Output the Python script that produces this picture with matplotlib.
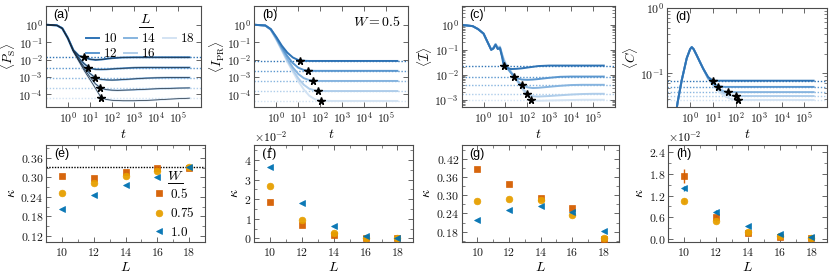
import numpy as np
import matplotlib
matplotlib.use("Agg")
import matplotlib.pyplot as plt
from matplotlib.ticker import MultipleLocator, AutoMinorLocator, FuncFormatter, NullFormatter

# ---- дані: верхній ряд (log10 значень, log10 часу) ----
L_vals = [10, 12, 14, 16, 18]
blues = ['#2e73b5', '#5b97cf', '#86b4df', '#afcdea', '#d3e3f3']

t_a = [-1, -0.5, -0.25, 0, 0.25, 0.5, 0.75, 1, 1.25, 1.5, 1.75, 2, 2.25, 2.5, 3, 3.5, 4, 4.5, 5, 5.5]
ps_a = [
    [0, -0.03, -0.2, -0.75, -1.45, -1.78, -1.88, -1.98, -2.02, -2.0, -1.96, -1.92, -1.9, -1.88, -1.87, -1.87, -1.87, -1.87, -1.87, -1.87],
    [0, -0.03, -0.2, -0.76, -1.48, -1.92, -2.25, -2.5, -2.56, -2.57, -2.56, -2.54, -2.52, -2.5, -2.47, -2.46, -2.46, -2.46, -2.46, -2.46],
    [0, -0.03, -0.21, -0.77, -1.5, -2.0, -2.45, -2.8, -3.05, -3.14, -3.17, -3.18, -3.17, -3.15, -3.11, -3.07, -3.05, -3.04, -3.04, -3.04],
    [0, -0.03, -0.21, -0.78, -1.52, -2.05, -2.55, -3.0, -3.4, -3.65, -3.73, -3.76, -3.77, -3.76, -3.74, -3.71, -3.68, -3.66, -3.64, -3.63],
    [0, -0.03, -0.22, -0.79, -1.54, -2.1, -2.65, -3.15, -3.65, -4.18, -4.3, -4.34, -4.36, -4.37, -4.37, -4.35, -4.32, -4.28, -4.25, -4.22],
]
plat_a = [-1.87, -2.46, -3.04, -3.62, -4.2]
star_t_a = [0.71, 0.93, 1.24, 1.45, 1.51]

t_b = [-1, -0.5, -0.25, 0, 0.25, 0.5, 0.75, 1, 1.25, 1.5, 1.75, 2, 2.25, 2.5, 3, 3.5, 4, 4.5, 5, 5.5]
ipr_b = [
    [0, -0.04, -0.25, -0.7, -1.2, -1.6, -1.88, -2.03, -2.07, -2.08, -2.08, -2.08, -2.08, -2.08, -2.08, -2.08, -2.08, -2.08, -2.08, -2.08],
    [0, -0.04, -0.26, -0.75, -1.3, -1.8, -2.2, -2.47, -2.6, -2.64, -2.65, -2.65, -2.65, -2.65, -2.65, -2.65, -2.65, -2.65, -2.65, -2.65],
    [0, -0.04, -0.27, -0.8, -1.38, -1.95, -2.45, -2.83, -3.07, -3.18, -3.22, -3.23, -3.23, -3.23, -3.23, -3.23, -3.23, -3.23, -3.23, -3.23],
    [0, -0.05, -0.28, -0.83, -1.43, -2.05, -2.6, -3.08, -3.45, -3.68, -3.77, -3.8, -3.81, -3.81, -3.81, -3.81, -3.81, -3.81, -3.81, -3.81],
    [0, -0.05, -0.29, -0.86, -1.48, -2.12, -2.7, -3.25, -3.72, -4.08, -4.28, -4.35, -4.37, -4.38, -4.38, -4.38, -4.38, -4.38, -4.38, -4.38],
]
plat_b = [-2.08, -2.65, -3.23, -3.81, -4.38]
star_t_b = [1.07, 1.42, 1.67, 1.90, 2.05]

t_c = [-1, -0.5, -0.25, 0, 0.2, 0.35, 0.45, 0.55, 0.65, 0.75, 0.85, 0.92, 1.0, 1.25, 1.5, 1.75, 2, 2.25, 2.5, 3, 3.5, 4, 4.5, 5, 5.5]
imb_c = [
    [0, -0.05, -0.17, -0.35, -0.72, -1.0, -0.95, -0.8, -0.97, -0.93, -1.3, -1.63, -1.7, -1.77, -1.76, -1.74, -1.71, -1.68, -1.65, -1.63, -1.63, -1.63, -1.63, -1.63, -1.63],
    [0, -0.05, -0.17, -0.35, -0.72, -1.0, -0.94, -0.79, -0.95, -0.92, -1.25, -1.5, -1.65, -1.92, -2.13, -2.19, -2.2, -2.19, -2.17, -2.12, -2.08, -2.07, -2.07, -2.07, -2.07],
    [0, -0.05, -0.17, -0.35, -0.72, -0.99, -0.93, -0.78, -0.93, -0.9, -1.22, -1.42, -1.58, -1.9, -2.2, -2.4, -2.5, -2.53, -2.52, -2.48, -2.44, -2.41, -2.4, -2.4, -2.4],
    [0, -0.05, -0.17, -0.35, -0.72, -0.99, -0.92, -0.77, -0.92, -0.88, -1.2, -1.38, -1.55, -1.88, -2.2, -2.5, -2.76, -2.86, -2.87, -2.85, -2.82, -2.79, -2.77, -2.76, -2.76],
    [0, -0.05, -0.17, -0.35, -0.72, -0.98, -0.91, -0.76, -0.9, -0.86, -1.18, -1.35, -1.52, -1.86, -2.2, -2.55, -2.85, -3.02, -3.04, -3.03, -3.02, -3.01, -3.0, -3.0, -3.0],
]
plat_c = [-1.63, -2.07, -2.40, -2.76, -3.0]
star_t_c = [0.92, 1.41, 1.77, 2.0, 2.17]

t_d = [-0.7, -0.55, -0.37, -0.15, 0, 0.07, 0.15, 0.28, 0.43, 0.57, 0.79, 1.0, 1.25, 1.5, 1.75, 2, 2.25, 2.5, 3, 3.5, 4, 4.5, 5, 5.4]
corr_d = [
    [-1.8, -1.45, -1.11, -0.77, -0.63, -0.6, -0.63, -0.72, -0.83, -0.93, -1.06, -1.115, -1.115, -1.115, -1.115, -1.115, -1.115, -1.115, -1.115, -1.115, -1.115, -1.115, -1.115, -1.115],
    [-1.8, -1.45, -1.11, -0.77, -0.63, -0.6, -0.63, -0.72, -0.83, -0.93, -1.07, -1.15, -1.2, -1.21, -1.21, -1.21, -1.21, -1.21, -1.21, -1.21, -1.21, -1.21, -1.21, -1.21],
    [-1.8, -1.45, -1.11, -0.77, -0.63, -0.6, -0.63, -0.72, -0.83, -0.93, -1.08, -1.17, -1.24, -1.28, -1.29, -1.29, -1.29, -1.29, -1.29, -1.29, -1.29, -1.29, -1.29, -1.29],
    [-1.8, -1.45, -1.11, -0.77, -0.63, -0.6, -0.63, -0.72, -0.83, -0.93, -1.08, -1.18, -1.26, -1.31, -1.34, -1.35, -1.35, -1.35, -1.35, -1.35, -1.35, -1.35, -1.35, -1.35],
    [-1.8, -1.45, -1.11, -0.77, -0.63, -0.6, -0.63, -0.72, -0.83, -0.93, -1.09, -1.19, -1.28, -1.35, -1.39, -1.41, -1.41, -1.41, -1.41, -1.41, -1.41, -1.41, -1.41, -1.41],
]
plat_d = [-1.115, -1.21, -1.29, -1.35, -1.41]
star_t_d = [0.98, 1.23, 1.67, 1.99, 2.10]

# ---- дані: нижній ряд (kappa від L) ----
L_sizes = [10, 12, 14, 16, 18]
W_labels = ['0.5', '0.75', '1.0']
W_colors = ['#d55e00', '#e69f00', '#0072b2']
W_markers = ['s', 'o', '<']

kappa_e = [[0.304, 0.297, 0.318, 0.328, 0.328],
           [0.253, 0.282, 0.305, 0.320, 0.331],
           [0.204, 0.246, 0.278, 0.300, 0.333]]
kappa_f = [[0.0187, 0.0068, 0.0017, 0.0000, 0.0000],
           [0.0267, 0.0094, 0.0026, 0.0003, 0.0003],
           [0.0363, 0.0182, 0.0065, 0.0012, 0.0001]]
kappa_g = [[0.387, 0.336, 0.291, 0.258, 0.155],
           [0.281, 0.287, 0.284, 0.235, 0.160],
           [0.217, 0.251, 0.265, 0.246, 0.183]]
kappa_h = [[0.0175, 0.0062, 0.00175, 0.00065, 0.0002],
           [0.0106, 0.0050, 0.0020, 0.0008, 0.0004],
           [0.0140, 0.0076, 0.0037, 0.0013, 0.00065]]
err_h = [[0.0020, 0.0005, 0.0002, 0.0001, 0.0001],
         [0.0007, 0.0004, 0.0002, 0.0001, 0.0001],
         [0.0006, 0.0004, 0.0002, 0.0001, 0.0001]]

# ---- стиль ----
plt.rcParams.update({
    'font.family': 'serif', 'font.serif': ['DejaVu Serif'],
    'mathtext.fontset': 'cm',
    'font.size': 8.5, 'xtick.labelsize': 8.5, 'ytick.labelsize': 8.5,
    'xtick.direction': 'in', 'ytick.direction': 'in',
    'xtick.top': True, 'ytick.right': True,
    'xtick.major.size': 3.5, 'ytick.major.size': 3.5,
    'xtick.minor.size': 2, 'ytick.minor.size': 2,
    'xtick.major.width': 0.6, 'ytick.major.width': 0.6,
    'xtick.minor.width': 0.5, 'ytick.minor.width': 0.5,
    'xtick.major.pad': 2.5, 'ytick.major.pad': 2.0,
    'axes.linewidth': 0.8, 'axes.edgecolor': '0.3',
    'xtick.color': '0.3', 'ytick.color': '0.3',
    'xtick.labelcolor': '0.1', 'ytick.labelcolor': '0.1',
})

W, H = 830, 276
fig = plt.figure(figsize=(W / 100, H / 100), dpi=100)


def px_axes(x0, x1, y0, y1):
    return fig.add_axes([x0 / W, 1 - y1 / H, (x1 - x0) / W, (y1 - y0) / H])


def panel_label(ax, s, fam='Liberation Sans'):
    ax.text(0.05, 0.97, s, transform=ax.transAxes, ha='left', va='top',
            fontsize=9, family=fam)


def underline_title(ax, s, x, y, x0, x1, yl):
    ax.text(x, y, s, transform=ax.transAxes, ha='center', va='center', fontsize=10)
    ax.plot([x0, x1], [yl, yl], transform=ax.transAxes, color='k', lw=0.7, clip_on=False)


log_fmt = FuncFormatter(lambda v, p: r'$10^{%d}$' % int(round(np.log10(v))))


def lin_fmt(nd, scale=1.0):
    return FuncFormatter(lambda v, p: r'$%.*f$' % (nd, v / scale))


# ---- верхній ряд ----
top = [
    (px_axes(45.7, 200.5, 6, 107.3), t_a, ps_a, plat_a, star_t_a, r'$\langle P_{\rm S}\rangle$', (1.8e-5, 12), [1, 1e-1, 1e-2, 1e-3, 1e-4], '(a)'),
    (px_axes(254.3, 408.3, 6, 107.3), t_b, ipr_b, plat_b, star_t_b, r'$\langle I_{\rm PR}\rangle$', (1.8e-5, 12), [1, 1e-1, 1e-2, 1e-3, 1e-4], '(b)'),
    (px_axes(461.7, 614.7, 6, 107.3), t_c, imb_c, plat_c, star_t_c, r'$\langle \mathcal{I}\rangle$', (5e-4, 5.7), [1, 1e-1, 1e-2, 1e-3], '(c)'),
    (px_axes(667.3, 827.3, 8, 107.3), t_d, corr_d, plat_d, star_t_d, r'$\langle C\rangle$', (3e-2, 1), [1, 1e-1], '(d)'),
]

for k, (ax, tt, curves, plat, st, ylab, ylim, yt, lab) in enumerate(top):
    ax.set_xscale('log')
    ax.set_yscale('log')
    tt = 10 ** np.array(tt)
    for i in range(len(L_vals) - 1, -1, -1):
        yy = 10 ** np.array(curves[i])
        ax.axhline(10 ** plat[i], color=blues[i], ls=(0, (1, 1.3)), lw=1.0, zorder=1)
        ax.plot(tt, yy, color=blues[i], lw=1.4, zorder=2, label=str(L_vals[i]))
        if k == 0:
            ax.plot(tt, yy, color='#1b2a3a', lw=0.5, zorder=3)
    for i in range(len(L_vals)):
        ax.plot(10 ** st[i], 10 ** plat[i], marker='*', color='k', ms=5.5, ls='none', zorder=5)
    ax.set_xlim(1e-1, 1e6)
    ax.set_ylim(*ylim)
    ax.set_xticks([1, 1e1, 1e2, 1e3, 1e4, 1e5])
    ax.set_yticks(yt)
    ax.xaxis.set_major_formatter(log_fmt)
    ax.yaxis.set_major_formatter(log_fmt)
    ax.xaxis.set_minor_formatter(NullFormatter())
    ax.yaxis.set_minor_formatter(NullFormatter())
    ax.set_xlabel(r'$t$', fontsize=10, labelpad=1)
    ax.set_ylabel(ylab, fontsize=9.5, labelpad=0)
    panel_label(ax, lab)

# легенда L
ax_a = top[0][0]
h, l = ax_a.get_legend_handles_labels()
order = [l.index(str(L)) for L in L_vals]
ax_a.legend([h[j] for j in order], [r'$%d$' % L for L in L_vals], ncol=3, loc='upper right',
            bbox_to_anchor=(1.02, 0.83), frameon=False, fontsize=9.5, handlelength=1.0,
            handletextpad=0.3, columnspacing=0.5, labelspacing=0.15, borderpad=0.2)
underline_title(ax_a, r'$L$', 0.645, 0.87, 0.6, 0.69, 0.79)

top[1][0].text(0.95, 0.84, r'$W = 0.5$', transform=top[1][0].transAxes,
               ha='right', va='center', fontsize=10)

# ---- нижній ряд ----
bottom = [
    (px_axes(46, 205, 145, 242.3), kappa_e, (0.10, 0.40), 0.06, '(e)', lin_fmt(2)),
    (px_axes(254.3, 413.3, 145, 242.3), kappa_f, (-0.002, 0.0477), 0.01, '(f)', lin_fmt(0, 1e-2)),
    (px_axes(461.7, 619.3, 145, 242.3), kappa_g, (0.145, 0.465), 0.06, '(g)', lin_fmt(2)),
    (px_axes(668.3, 827.3, 145, 242.3), kappa_h, (-0.0009, 0.026), 0.006, '(h)', lin_fmt(1, 1e-2)),
]

for k, (ax, kap, ylim, step, lab, yfmt) in enumerate(bottom):
    for j in range(3):
        if k == 3:
            ax.errorbar(L_sizes, kap[j], yerr=err_h[j], fmt=W_markers[j], color=W_colors[j],
                        ms=4.8, mec=W_colors[j], mew=0.5, elinewidth=1.0, ecolor=W_colors[j],
                        alpha=0.95, capsize=0, label=W_labels[j], zorder=3 + j)
        else:
            ax.plot(L_sizes, kap[j], ls='none', marker=W_markers[j], color=W_colors[j],
                    ms=4.8, mec=W_colors[j], mew=0.5, alpha=0.95, label=r'$%s$' % W_labels[j],
                    zorder=3 + j)
    ax.set_xlim(9, 19)
    ax.set_ylim(*ylim)
    ax.xaxis.set_major_locator(MultipleLocator(2))
    ax.xaxis.set_minor_locator(AutoMinorLocator(2))
    ax.yaxis.set_major_locator(MultipleLocator(step))
    ax.yaxis.set_minor_locator(AutoMinorLocator(2))
    ax.xaxis.set_major_formatter(lin_fmt(0))
    ax.yaxis.set_major_formatter(yfmt)
    if lab in ('(f)', '(h)'):
        ax.text(0.0, 1.0, r'$\times10^{-2}$', transform=ax.transAxes, ha='left', va='bottom',
                fontsize=8.5)
    ax.set_xlabel(r'$L$', fontsize=10, labelpad=1)
    ax.set_ylabel(r'$\kappa$', fontsize=10, labelpad=2)
    if lab == '(f)':
        panel_label(ax, lab, fam='DejaVu Serif')
    else:
        panel_label(ax, lab)

ax_e = bottom[0][0]
ax_e.axhline(1 / 3, color='k', ls=(0, (1, 1)), lw=1.0, zorder=2)
ax_e.legend(loc='lower right', bbox_to_anchor=(1.0, -0.07), frameon=False, fontsize=9.5,
            handlelength=1.0, handletextpad=0.3, labelspacing=0.4, borderpad=0.3)
underline_title(ax_e, r'$W$', 0.81, 0.68, 0.77, 0.86, 0.61)

fig.savefig('out.png', dpi=100)
